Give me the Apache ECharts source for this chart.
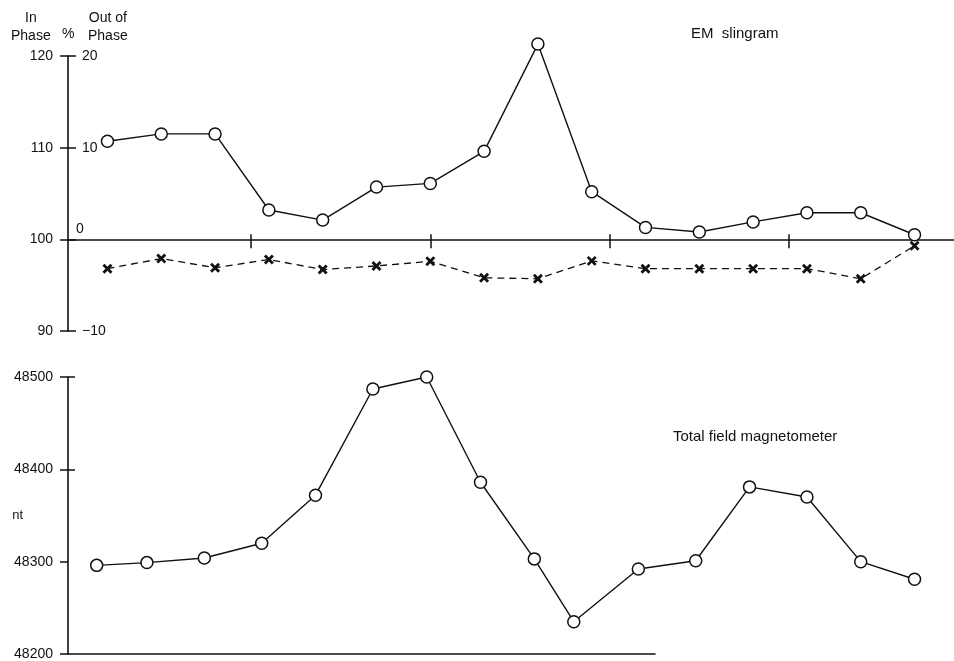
<!DOCTYPE html>
<html>
<head>
<meta charset="utf-8">
<script src="https://cdn.jsdelivr.net/npm/echarts@6/dist/echarts.min.js"></script>
<style>
html,body{margin:0;padding:0;background:#fff;}
#c{width:954px;height:661px;}
</style>
</head>
<body>
<div id="c"></div>
<script>
// Station positions (m) for the EM slingram survey
var emStations = [10, 25, 40, 55, 70, 85, 100, 115, 130, 145, 160, 175, 190, 205, 220, 235];
// In-phase (%)
var inPhase = [110.7, 111.5, 111.5, 103.2, 102.1, 105.7, 106.1, 109.6, 121.3, 105.2, 101.3, 100.8, 101.9, 102.9, 102.9, 100.5];
// Out-of-phase (%)
var outPhase = [-3.2, -2.1, -3.1, -2.2, -3.3, -2.9, -2.4, -4.2, -4.3, -2.35, -3.2, -3.2, -3.2, -3.2, -4.3, -0.7];
// Magnetometer stations (m) and total field (nT)
var magStations = [7, 21, 37, 53, 68, 84, 99, 114, 129, 140, 158, 174, 189, 205, 220, 235];
var totalField = [48296, 48299, 48304, 48320, 48372, 48487, 48500, 48386, 48303, 48235, 48292, 48301, 48381, 48370, 48300, 48281];
// Tick labels
var inPhaseTicks = [90, 100, 110, 120];
var outPhaseTicks = [-10, 0, 10, 20];
var magTicks = [48200, 48300, 48400, 48500];
var distanceTicks = [50, 100, 150, 200];

var FONT = 'Liberation Sans';
var INK = '#111';
var chart = echarts.init(document.getElementById('c'), null, {renderer: 'canvas'});

function pairs(xs, ys) { return xs.map(function (x, i) { return [x, ys[i]]; }); }

var GRID_W = 954 - 68;

var option = {
  backgroundColor: '#fff',
  animation: false,
  textStyle: {fontFamily: FONT, color: INK},
  title: [
    {text: 'EM  slingram', left: 686, top: 21, textStyle: {fontFamily: FONT, fontSize: 15, fontWeight: 'normal', color: INK}},
    {text: 'Total field magnetometer', left: 668, top: 424, textStyle: {fontFamily: FONT, fontSize: 15, fontWeight: 'normal', color: INK}}
  ],
  graphic: [
    {type: 'text', left: 11, top: 9, style: {text: 'In\nPhase', textAlign: 'center', font: '14px ' + FONT, lineHeight: 18, fill: INK}},
    {type: 'text', left: 62, top: 27, style: {text: '%', font: '14px ' + FONT, fill: INK}},
    {type: 'text', left: 88, top: 9, style: {text: 'Out of\nPhase', textAlign: 'center', font: '14px ' + FONT, lineHeight: 18, fill: INK}}
  ],
  grid: [
    {left: 68, right: 0, top: 56, height: 275, outerBoundsMode: 'none', containLabel: false},
    {left: 68, right: 0, top: 377, height: 277, outerBoundsMode: 'none', containLabel: false},
    {left: 68, width: 587, top: 377, height: 277, outerBoundsMode: 'none', containLabel: false}
  ],
  xAxis: [
    {type: 'value', gridIndex: 0, min: -1, max: 246, position: 'bottom',
      axisLine: {show: true, onZero: true, onZeroAxisIndex: 1, lineStyle: {color: INK, width: 1.5}},
      axisTick: {show: true, length: 9, customValues: distanceTicks, lineStyle: {color: INK, width: 1.5}},
      axisLabel: {show: false}, splitLine: {show: false}},
    {type: 'value', gridIndex: 0, min: -1, max: 246, position: 'top',
      axisLine: {show: false, onZero: true, onZeroAxisIndex: 1},
      axisTick: {show: true, length: 5, customValues: distanceTicks, lineStyle: {color: INK, width: 1.5}},
      axisLabel: {show: false}, splitLine: {show: false}},
    {type: 'value', gridIndex: 1, min: -1, max: 246,
      axisLine: {show: false}, axisTick: {show: false}, axisLabel: {show: false}, splitLine: {show: false}},
    {type: 'value', gridIndex: 2, min: 0, max: 100,
      axisLine: {show: true, onZero: false, lineStyle: {color: INK, width: 1.5}},
      axisTick: {show: false}, axisLabel: {show: false}, splitLine: {show: false}}
  ],
  yAxis: [
    {type: 'value', gridIndex: 0, min: inPhaseTicks[0], max: inPhaseTicks[inPhaseTicks.length - 1], interval: 10, position: 'left',
      axisLine: {show: true, onZero: false, lineStyle: {color: INK, width: 1.6}},
      axisTick: {show: true, length: 8, lineStyle: {color: INK, width: 1.5}},
      axisLabel: {show: true, margin: 15, fontSize: 14, color: INK, fontFamily: FONT},
      splitLine: {show: false}},
    {type: 'value', gridIndex: 0, min: outPhaseTicks[0], max: outPhaseTicks[outPhaseTicks.length - 1], interval: 10, position: 'right', offset: -GRID_W,
      axisLine: {show: false, onZero: false},
      axisTick: {show: true, length: 8, lineStyle: {color: INK, width: 1.5}},
      axisLabel: {show: true, margin: 14, fontSize: 14, color: INK, fontFamily: FONT,
        formatter: function (v) { return v === 0 ? '{z|0}' : String(v).replace('-', '\u2212'); },
        rich: {z: {fontSize: 14, fontFamily: FONT, color: INK, padding: [0, 0, 20, -6]}}},
      splitLine: {show: false}},
    {type: 'value', gridIndex: 1, min: magTicks[0], max: magTicks[magTicks.length - 1], interval: 100, position: 'left',
      name: 'nt', nameLocation: 'middle', nameRotate: 0, nameGap: 45, nameMoveOverlap: false,
      nameTextStyle: {fontSize: 13, color: INK, fontFamily: FONT},
      axisLine: {show: true, onZero: false, lineStyle: {color: INK, width: 1.6}},
      axisTick: {show: true, length: 8, lineStyle: {color: INK, width: 1.5}},
      axisLabel: {show: true, margin: 15, fontSize: 14, color: INK, fontFamily: FONT,
        formatter: function (v) { return String(v); }},
      splitLine: {show: false}},
    {type: 'value', gridIndex: 1, min: magTicks[0], max: magTicks[magTicks.length - 1], interval: 100, position: 'right', offset: -GRID_W,
      axisLine: {show: false, onZero: false},
      axisTick: {show: true, length: 7, customValues: [48400, 48500], lineStyle: {color: INK, width: 1.5}},
      axisLabel: {show: false}, splitLine: {show: false}},
    {type: 'value', gridIndex: 2, min: 0, max: 100, show: false}
  ],
  series: [
    {name: 'In phase', type: 'line', xAxisIndex: 0, yAxisIndex: 0, data: pairs(emStations, inPhase),
      symbol: 'circle', symbolSize: 12, z: 3, clip: false,
      lineStyle: {color: INK, width: 1.4},
      itemStyle: {color: '#fff', borderColor: INK, borderWidth: 1.5}},
    {name: 'Out of phase', type: 'line', xAxisIndex: 0, yAxisIndex: 1, data: pairs(emStations, outPhase),
      symbol: 'path://M0,0L10,10M10,0L0,10', symbolSize: 8, z: 2, clip: false,
      lineStyle: {color: INK, width: 1.3, type: [7, 5]},
      itemStyle: {color: INK, borderColor: INK, borderWidth: 2.8}},
    {name: 'Total field', type: 'line', xAxisIndex: 2, yAxisIndex: 2, data: pairs(magStations, totalField),
      symbol: 'circle', symbolSize: 12, z: 3, clip: false,
      lineStyle: {color: INK, width: 1.4},
      itemStyle: {color: '#fff', borderColor: INK, borderWidth: 1.5}}
  ]
};
chart.setOption(option);
</script>
</body>
</html>
